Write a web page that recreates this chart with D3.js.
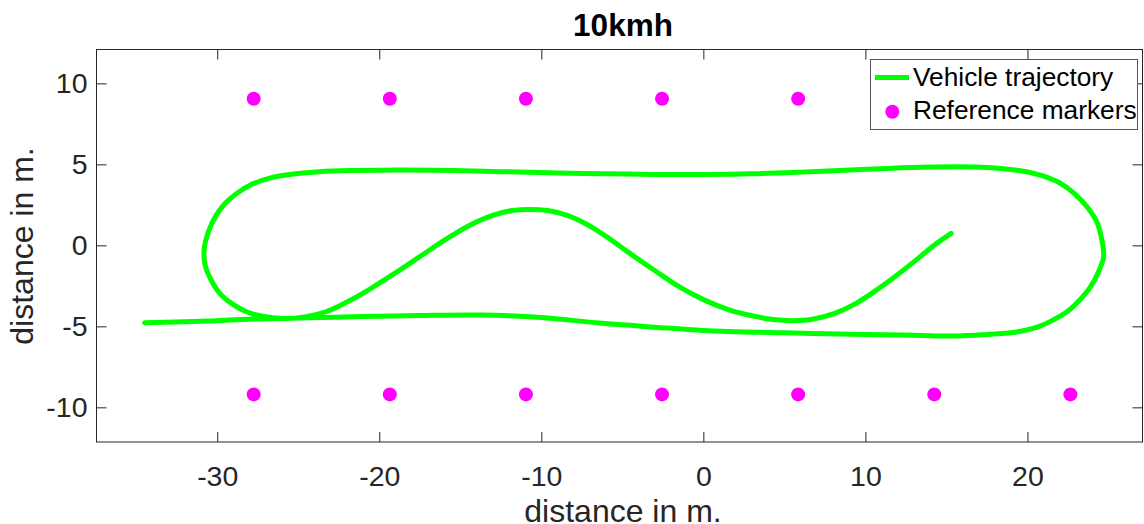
<!DOCTYPE html>
<html>
<head>
<meta charset="utf-8">
<script src="https://cdn.jsdelivr.net/npm/d3@7"></script>
<style>
  body { margin: 0; background: #fff; }
  svg text { font-family: "Liberation Sans", Arial, sans-serif; }
</style>
</head>
<body>
<div id="chart"></div>
<script>
// trajectory (x, y in m.)
var trajX = [-34.48, -30, -27.8, -25, -21, -17.5, -13.8, -10, -6.4, -3, 0, 5, 10, 13, 15.7, 17.5, 19.35, 20.6, 21.6, 22.5, 23.2, 23.87, 24.4, 24.7, 24.6, 24.3, 23.7, 22.9, 22.0, 20.9, 19.6, 17.1, 14, 10.9, 8, 6, 3, 0, -3, -6.4, -9.5, -12.5, -15.5, -18.7, -21.5, -23.7, -25.3, -26.75, -27.9, -28.8, -29.5, -30.04, -30.5, -30.8, -30.75, -30.4, -29.83, -29.1, -28.2, -27.2, -25.8, -24.6, -23.3, -22, -20.5, -19, -17.5, -16, -14.5, -13, -11.8, -10.7, -9.6, -8.4, -7.2, -6, -4.6, -3, -1.5, 0, 1.5, 3, 4.3, 5.5, 6.8, 8.1, 9.4, 10.7, 12, 13.2, 14.3, 15.29];
var trajY = [-4.78, -4.65, -4.55, -4.48, -4.4, -4.33, -4.3, -4.45, -4.8, -5.05, -5.25, -5.4, -5.5, -5.55, -5.6, -5.5, -5.35, -5.05, -4.6, -4.05, -3.4, -2.6, -1.6, -0.7, 0.3, 1.4, 2.35, 3.2, 3.85, 4.3, 4.6, 4.82, 4.83, 4.73, 4.6, 4.52, 4.42, 4.38, 4.38, 4.42, 4.48, 4.55, 4.62, 4.65, 4.62, 4.55, 4.4, 4.15, 3.75, 3.2, 2.6, 1.9, 0.95, -0.2, -1.2, -2.1, -2.98, -3.6, -4.1, -4.38, -4.52, -4.42, -4.1, -3.5, -2.65, -1.7, -0.7, 0.3, 1.2, 1.85, 2.15, 2.22, 2.15, 1.85, 1.3, 0.55, -0.45, -1.55, -2.55, -3.35, -3.95, -4.35, -4.58, -4.65, -4.55, -4.2, -3.6, -2.75, -1.8, -0.85, 0.05, 0.74];

// reference markers
var refX = [-27.75, -19.35, -10.95, -2.55, 5.85, 14.25, 22.65, -27.75, -19.35, -10.95, -2.55, 5.85, 14.25, 22.65];
var refY = [9.05, 9.05, 9.05, 9.05, 9.05, 9.05, 9.05, -9.2, -9.2, -9.2, -9.2, -9.2, -9.2, -9.2];

var xTicks = [-30, -20, -10, 0, 10, 20];
var yTicks = [-10, -5, 0, 5, 10];
var legendLabels = ["Vehicle trajectory", "Reference markers"];

var W = 1144, H = 524;
var mLeft = 96.5, mRight = 1142.5, mTop = 49.5, mBottom = 442;
var axisColor = "#262626";

var svg = d3.select("#chart").append("svg")
    .attr("width", W)
    .attr("height", H);

var x = d3.scaleLinear().domain([-37.45, 27.1]).range([mLeft, mRight]);
var y = d3.scaleLinear().domain([-12.14, 12.09]).range([mBottom, mTop]);

// trajectory
var pts = trajX.map((v, i) => [v, trajY[i]]);
var line = d3.line()
    .x(d => x(d[0]))
    .y(d => y(d[1]))
    .curve(d3.curveCatmullRom.alpha(0.5));

svg.append("path")
    .datum(pts)
    .attr("d", line)
    .attr("fill", "none")
    .attr("stroke", "#00ff00")
    .attr("stroke-width", 5)
    .attr("stroke-linecap", "round")
    .attr("stroke-linejoin", "round");

// markers
svg.selectAll(".ref")
    .data(refX)
    .enter()
    .append("circle")
    .attr("cx", (d, i) => x(d))
    .attr("cy", (d, i) => y(refY[i]))
    .attr("r", 7)
    .attr("fill", "#ff00ff");

// axes (ticks pointing inward, box all round)
var fmt = d => String(d);
var gb = svg.append("g")
    .attr("transform", `translate(0, ${mBottom})`)
    .call(d3.axisBottom(x).tickValues(xTicks).tickSizeInner(-10).tickSizeOuter(0).tickPadding(24).tickFormat(fmt));
var gt = svg.append("g")
    .attr("transform", `translate(0, ${mTop})`)
    .call(d3.axisTop(x).tickValues(xTicks).tickSizeInner(-10).tickSizeOuter(0).tickFormat(""));
var gl = svg.append("g")
    .attr("transform", `translate(${mLeft}, 0)`)
    .call(d3.axisLeft(y).tickValues(yTicks).tickSizeInner(-10).tickSizeOuter(0).tickPadding(9).tickFormat(fmt));
var gr = svg.append("g")
    .attr("transform", `translate(${mRight}, 0)`)
    .call(d3.axisRight(y).tickValues(yTicks).tickSizeInner(-10).tickSizeOuter(0).tickFormat(""));

[gb, gt, gl, gr].forEach(g => {
    g.select(".domain").remove();
    g.selectAll("line").attr("stroke", axisColor);
    g.selectAll("text")
        .attr("fill", axisColor)
        .attr("font-size", "28.5px")
        .attr("font-family", "Liberation Sans, Arial, sans-serif");
});

svg.append("rect")
    .attr("x", mLeft)
    .attr("y", mTop)
    .attr("width", mRight - mLeft)
    .attr("height", mBottom - mTop)
    .attr("fill", "none")
    .attr("stroke", axisColor)
    .attr("stroke-width", 1);

// title and labels
svg.append("text")
    .text("10kmh")
    .attr("x", 623)
    .attr("y", 36)
    .attr("text-anchor", "middle")
    .attr("font-size", "31.5px")
    .attr("font-weight", "bold")
    .attr("fill", "#000");

svg.append("text")
    .text("distance in m.")
    .attr("x", 623)
    .attr("y", 522)
    .attr("text-anchor", "middle")
    .attr("font-size", "32px")
    .attr("fill", axisColor);

svg.append("text")
    .text("distance in m.")
    .attr("transform", "translate(33, 246) rotate(-90)")
    .attr("text-anchor", "middle")
    .attr("font-size", "32px")
    .attr("fill", axisColor);

// legend
var lg = svg.append("g");
lg.append("rect")
    .attr("x", 870.5)
    .attr("y", 59.5)
    .attr("width", 267)
    .attr("height", 70)
    .attr("fill", "#fff")
    .attr("stroke", "#555")
    .attr("stroke-width", 1);
lg.append("line")
    .attr("x1", 875).attr("x2", 909)
    .attr("y1", 77.5).attr("y2", 77.5)
    .attr("stroke", "#00ff00")
    .attr("stroke-width", 5);
lg.append("circle")
    .attr("cx", 892.3).attr("cy", 111.7)
    .attr("r", 7)
    .attr("fill", "#ff00ff");
lg.selectAll(".lt")
    .data(legendLabels)
    .enter()
    .append("text")
    .text(d => d)
    .attr("x", 913)
    .attr("y", (d, i) => 86 + i * 33)
    .attr("font-size", "26.3px")
    .attr("fill", "#000");
</script>
</body>
</html>
